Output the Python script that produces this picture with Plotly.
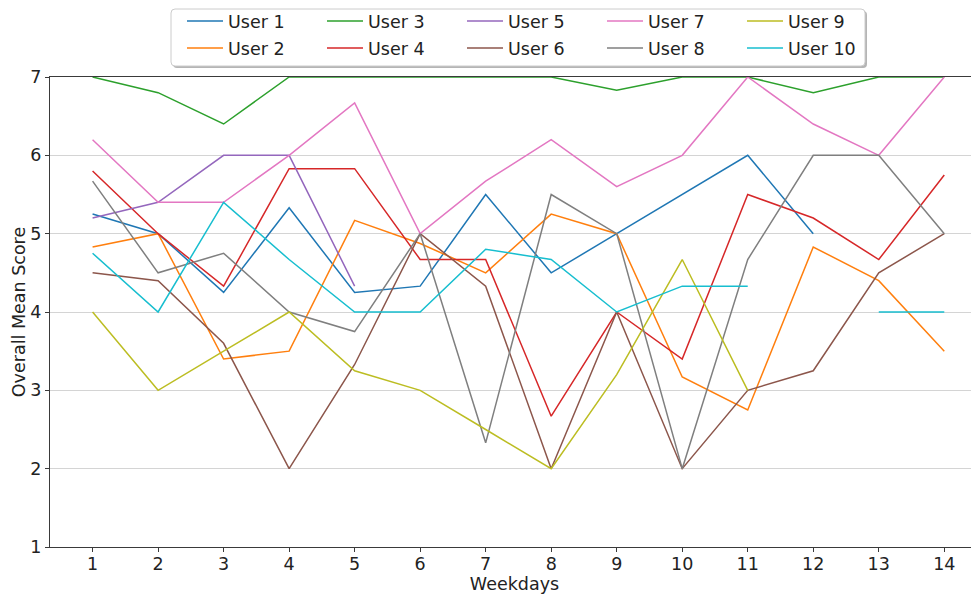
import plotly.graph_objects as go

days = list(range(1, 15))

user1 = [5.25, 5.0, 4.25, 5.33, 4.25, 4.33, 5.5, 4.5, 5.0, 5.5, 6.0, 5.0, None, None]
user2 = [4.83, 5.0, 3.4, 3.5, 5.17, 4.875, 4.5, 5.25, 5.0, 3.17, 2.75, 4.83, 4.4, 3.5]
user3 = [7.0, 6.8, 6.4, 7.0, 7.0, 7.0, 7.0, 7.0, 6.83, 7.0, 7.0, 6.8, 7.0, 7.0]
user4 = [5.8, 5.0, 4.33, 5.83, 5.83, 4.67, 4.67, 2.67, 4.0, 3.4, 5.5, 5.2, 4.67, 5.75]
user5 = [5.2, 5.4, 6.0, 6.0, 4.33, None, None, None, None, None, None, None, None, None]
user6 = [4.5, 4.4, 3.6, 2.0, 3.33, 5.0, 4.33, 2.0, 4.0, 2.0, 3.0, 3.25, 4.5, 5.0]
user7 = [6.2, 5.4, 5.4, 6.0, 6.67, 5.0, 5.67, 6.2, 5.6, 6.0, 7.0, 6.4, 6.0, 7.0]
user8 = [5.67, 4.5, 4.75, 4.0, 3.75, 5.0, 2.33, 5.5, 5.0, 2.0, 4.67, 6.0, 6.0, 5.0]
user9 = [4.0, 3.0, 3.5, 4.0, 3.25, 3.0, 2.5, 2.0, 3.2, 4.67, 3.0, None, None, None]
user10 = [4.75, 4.0, 5.4, 4.67, 4.0, 4.0, 4.8, 4.67, 4.0, 4.33, 4.33, None, 4.0, 4.0]

series_names = ["User 1", "User 2", "User 3", "User 4", "User 5",
                "User 6", "User 7", "User 8", "User 9", "User 10"]
series_values = [user1, user2, user3, user4, user5, user6, user7, user8, user9, user10]
colors = ["#1f77b4", "#ff7f0e", "#2ca02c", "#d62728", "#9467bd",
          "#8c564b", "#e377c2", "#7f7f7f", "#bcbd22", "#17becf"]
# legend rows: odd users on the first row, even users on the second
legend_rows = ["legend", "legend2", "legend", "legend2", "legend",
               "legend2", "legend", "legend2", "legend", "legend2"]

FONT = "DejaVu Sans"
FS = 17.5

fig = go.Figure()
for name, vals, col, lg in zip(series_names, series_values, colors, legend_rows):
    fig.add_trace(go.Scatter(
        x=days, y=vals, mode="lines", name=name,
        line=dict(color=col, width=1.5),
        connectgaps=False, legend=lg,
    ))

# figure is drawn 8px right/down because of the page body margin
W, H = 971, 587
ML, MT, MB = 42, 69, 48
PW, PH = W - ML, H - MT - MB


def px_x(x):
    return (x - ML) / PW


def px_y(y):
    return 1 + (MT - y) / PH


# legend frame (rounded) with a soft shadow
def rounded(x0, y0, x1, y1, r=4):
    rx, ry = r / PW, r / PH
    X0, X1 = px_x(x0), px_x(x1)
    Yt, Yb = px_y(y0), px_y(y1)
    return (f"M {X0+rx},{Yt} L {X1-rx},{Yt} Q {X1},{Yt} {X1},{Yt-ry} "
            f"L {X1},{Yb+ry} Q {X1},{Yb} {X1-rx},{Yb} L {X0+rx},{Yb} "
            f"Q {X0},{Yb} {X0},{Yb+ry} L {X0},{Yt-ry} Q {X0},{Yt} {X0+rx},{Yt} Z")


bx0, by0, bx1, by1 = 163, 1, 857, 58
shapes = [
    dict(type="path", path=rounded(bx0 + 2, by0 + 2, bx1 + 2, by1 + 2),
         xref="paper", yref="paper", fillcolor="rgba(120,120,120,0.55)",
         line=dict(width=0), layer="above"),
    dict(type="path", path=rounded(bx0, by0, bx1, by1),
         xref="paper", yref="paper", fillcolor="white",
         line=dict(color="#cccccc", width=1), layer="above"),
]

leg_common = dict(
    orientation="h", xanchor="left", yanchor="top",
    bgcolor="rgba(0,0,0,0)", borderwidth=0,
    font=dict(family=FONT, size=FS, color="#222222"),
    entrywidth=89, entrywidthmode="pixels", itemwidth=36,
)

axis_line = "#3a3a3a"
fig.update_layout(
    width=W, height=H,
    margin=dict(l=ML, r=0, t=MT, b=MB, autoexpand=False),
    plot_bgcolor="white", paper_bgcolor="white",
    font=dict(family=FONT, size=FS, color="#222222"),
    showlegend=True,
    legend=dict(x=px_x(174), y=px_y(-5), **leg_common),
    legend2=dict(x=px_x(174), y=px_y(22), **leg_common),
    shapes=shapes,
    xaxis=dict(
        range=[0.35, 14.53], tickmode="array", tickvals=days,
        ticktext=[str(d) for d in days],
        showgrid=False, zeroline=False,
        showline=True, linecolor=axis_line, linewidth=1.3, mirror=True,
        ticks="outside", ticklen=4, tickcolor=axis_line, tickwidth=1,
        ticklabelstandoff=-3,
        title=dict(text="Weekdays", font=dict(family=FONT, size=FS), standoff=0),
        tickfont=dict(family=FONT, size=FS),
    ),
    yaxis=dict(
        range=[1, 7], tickmode="array", tickvals=[1, 2, 3, 4, 5, 6, 7],
        showgrid=True, gridcolor="#d4d4d4", gridwidth=1.3, zeroline=False,
        showline=True, linecolor=axis_line, linewidth=1.3,
        ticks="outside", ticklen=4, tickcolor=axis_line, tickwidth=1,
        title=dict(text="Overall Mean Score", font=dict(family=FONT, size=FS), standoff=0),
        tickfont=dict(family=FONT, size=FS),
    ),
)

fig.write_html("out.html")
